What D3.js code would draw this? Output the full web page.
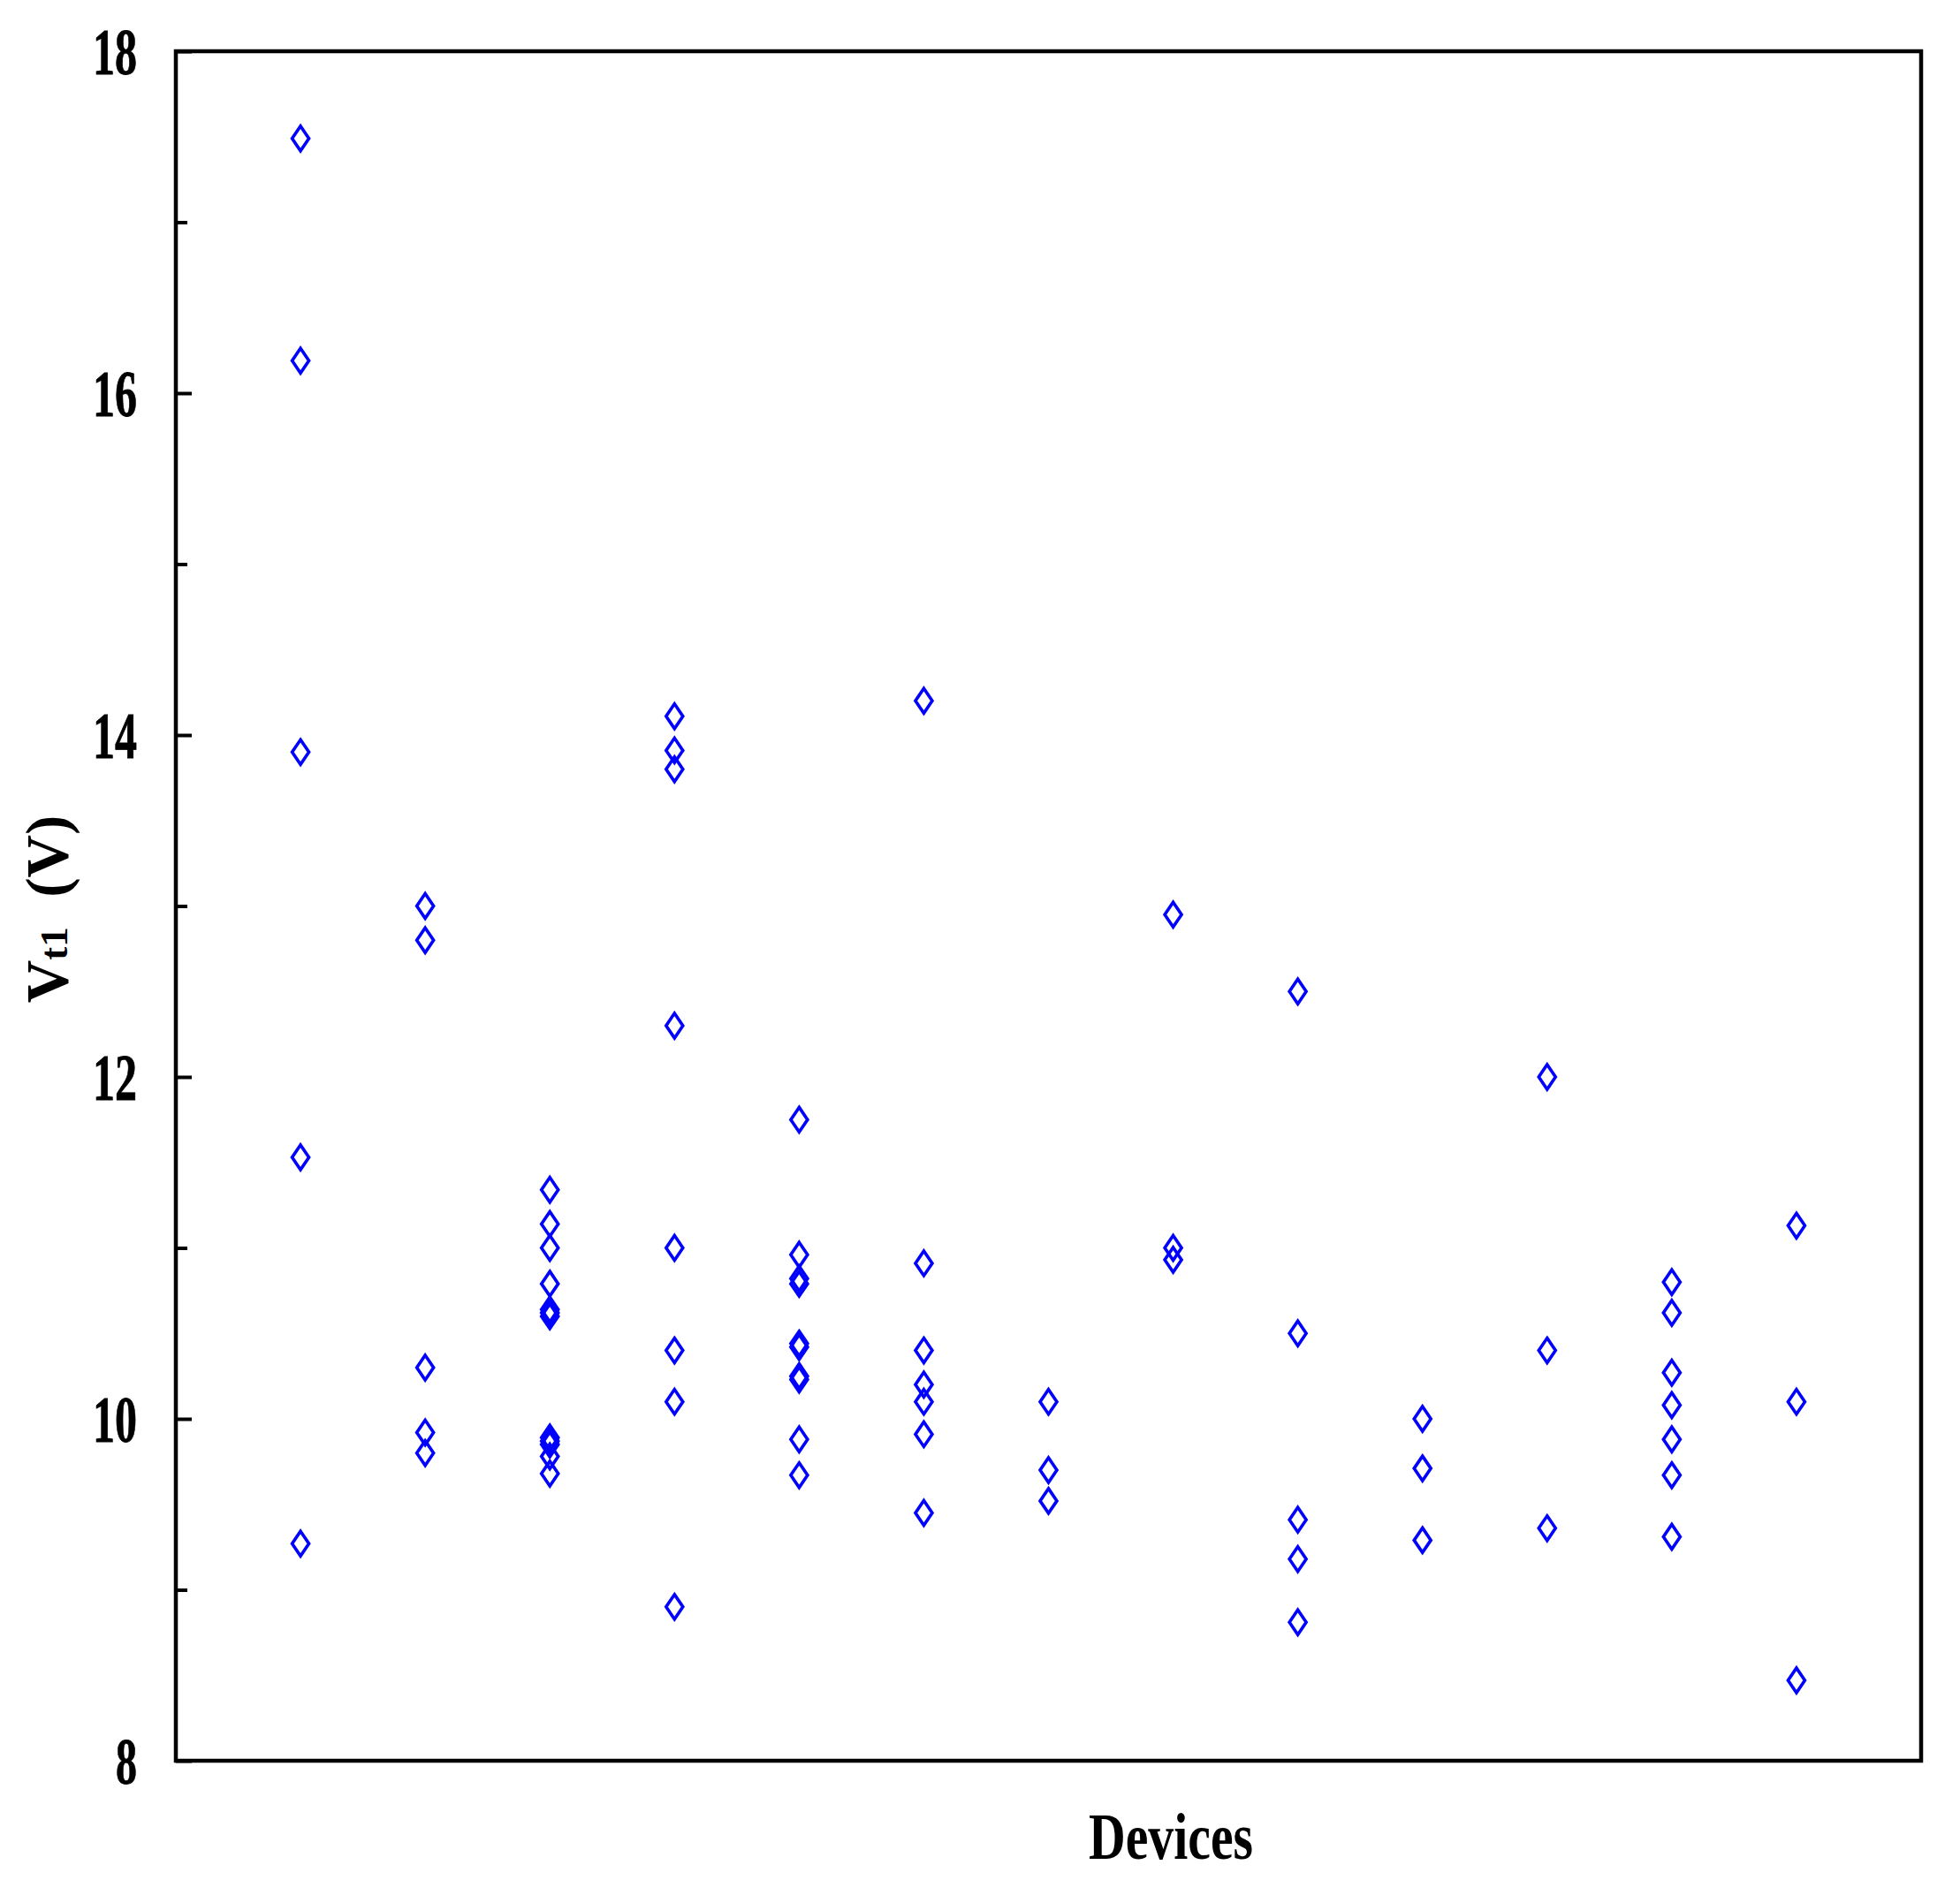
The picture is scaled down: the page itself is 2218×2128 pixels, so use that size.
<!DOCTYPE html>
<html>
<meta charset="utf-8">
<script src="https://d3js.org/d3.v7.min.js"></script>
<head>
<style>
body { margin: 0; background: #fff; }
svg { display: block; }
</style>
</head>
<body>
<div id="chart"></div>
<script>

// Vt1 (V) measured on each device
var devices = [1, 2, 3, 4, 5, 6, 7, 8, 9, 10, 11, 12, 13];
var vt1 = [
  [17.49, 16.19, 13.90, 11.53, 9.27],                                      // device 1
  [13.00, 12.80, 10.30, 9.92, 9.80],                                       // device 2
  [11.34, 11.14, 11.00, 10.79, 10.64, 10.62, 10.60, 9.89, 9.87, 9.85, 9.78, 9.68], // device 3
  [14.11, 13.91, 13.80, 12.30, 11.00, 10.40, 10.10, 8.90],                 // device 4
  [11.75, 10.96, 10.82, 10.79, 10.44, 10.42, 10.25, 10.23, 9.88, 9.67],   // device 5
  [14.20, 10.91, 10.40, 10.20, 10.10, 9.91, 9.45],                         // device 6
  [10.10, 9.70, 9.52],                                                     // device 7
  [12.95, 11.00, 10.93],                                                   // device 8
  [12.50, 10.50, 9.41, 9.18, 8.81],                                        // device 9
  [10.00, 9.71, 9.29],                                                     // device 10
  [12.00, 10.40, 9.36],                                                    // device 11
  [10.80, 10.62, 10.27, 10.08, 9.88, 9.67, 9.31],                          // device 12
  [11.13, 10.10, 8.47]                                                     // device 13
];
var majorTicks = [8, 10, 12, 14, 16, 18];
var minorTicks = [9, 11, 13, 15, 17];

var width = 2218,
    height = 2128;
var plotLeft = 199, plotRight = 2174, plotTop = 58, plotBottom = 1993;

var svg = d3.select("#chart")
  .append("svg")
    .attr("width", width)
    .attr("height", height);

var x = d3.scaleLinear().domain([0, 14]).range([plotLeft, plotRight]);
var y = d3.scaleLinear().domain([8, 18]).range([plotBottom, plotTop]);

// points
var pts = [];
devices.forEach(function(d, i) {
  vt1[i].forEach(function(v) { pts.push({dev: d, v: v}); });
});

svg.append("g")
  .selectAll("path")
  .data(pts)
  .enter()
  .append("path")
    .attr("d", function(d) {
      var cx = x(d.dev), cy = y(d.v);
      return "M" + cx + "," + (cy - 14) + "L" + (cx + 9.5) + "," + cy +
             "L" + cx + "," + (cy + 14) + "L" + (cx - 9.5) + "," + cy + "Z";
    })
    .attr("fill", "none")
    .attr("stroke", "#0000ff")
    .attr("stroke-width", 3.6);

// frame
svg.append("rect")
  .attr("x", plotLeft)
  .attr("y", plotTop)
  .attr("width", plotRight - plotLeft)
  .attr("height", plotBottom - plotTop)
  .attr("fill", "none")
  .attr("stroke", "black")
  .attr("stroke-width", 4.5);

// major ticks (inward) + labels
var yAxis = svg.append("g")
  .attr("transform", "translate(" + plotLeft + ",0)")
  .call(d3.axisLeft(y).tickValues(majorTicks).tickSize(-18).tickPadding(45)
        .tickFormat(d3.format("d")));
yAxis.select(".domain").remove();
yAxis.selectAll("line").attr("stroke-width", 4);
yAxis.selectAll("text")
  .attr("dy", null)
  .attr("y", 25)
  .attr("x", -44)
  .attr("fill", "black")
  .attr("stroke", "black")
  .attr("stroke-width", 0.8)
  .style("font-family", "'Liberation Serif', 'Times New Roman', serif")
  .style("font-size", "75px")
  .style("font-weight", "bold")
  .attr("textLength", function(d) { return d < 10 ? 24 : 50; })
  .attr("lengthAdjust", "spacingAndGlyphs");

// minor ticks
var yMinor = svg.append("g")
  .attr("transform", "translate(" + plotLeft + ",0)")
  .call(d3.axisLeft(y).tickValues(minorTicks).tickSize(-13).tickFormat(""));
yMinor.select(".domain").remove();
yMinor.selectAll("line").attr("stroke-width", 4);

// axis titles
var ylab = svg.append("text")
  .attr("transform", "translate(76,1029) rotate(-90)")
  .attr("text-anchor", "middle")
  .style("font-family", "'Liberation Serif', 'Times New Roman', serif")
  .style("font-weight", "bold")
  .style("font-size", "67px");
ylab.append("tspan").text("V");
ylab.append("tspan").style("font-size", "45px").text("t1");
ylab.append("tspan").attr("xml:space", "preserve").text("  (V)");

svg.append("text")
  .attr("x", 1325)
  .attr("y", 2104)
  .attr("text-anchor", "middle")
  .attr("textLength", 186)
  .attr("lengthAdjust", "spacingAndGlyphs")
  .style("font-family", "'Liberation Serif', 'Times New Roman', serif")
  .style("font-weight", "bold")
  .style("font-size", "74px")
  .text("Devices");

</script>
</body>
</html>
